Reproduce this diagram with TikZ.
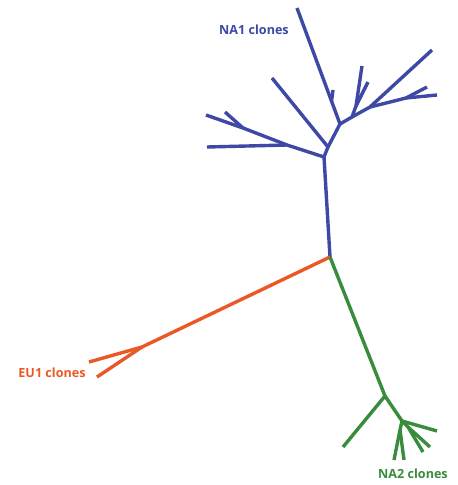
\documentclass[tikz,border=0pt]{standalone}
\usepackage{fontspec}
\setmainfont{Open Sans}
\definecolor{nablue}{RGB}{62,72,165}
\definecolor{euorange}{RGB}{234,88,40}
\definecolor{nagreen}{RGB}{56,140,60}
\begin{document}
\begin{tikzpicture}[x=1pt,y=-1pt,
  br/.style={line width=3.4pt,line join=round},
  lbl/.style={font=\bfseries\fontsize{12.6}{14}\selectfont,inner sep=0pt}]
\useasboundingbox (0,0) rectangle (458,485);
% root and internal nodes
\coordinate (root) at (330,257);
% blue clade
\coordinate (n1) at (324,157);
\coordinate (n2) at (328,147);
\coordinate (n3) at (340,124);
\coordinate (n4) at (352,117);
\coordinate (n5) at (356,106);
\coordinate (n6) at (370,107);
\coordinate (n7) at (406,98);
\coordinate (na) at (287,145);
\coordinate (nb) at (243,128);
\coordinate (s1) at (331.5,101);
\coordinate (s2) at (333,90);
\coordinate (b1) at (297,8);
\coordinate (b2) at (272,78);
\coordinate (b3) at (362,66);
\coordinate (b4) at (368,82);
\coordinate (b5) at (432,50);
\coordinate (b6) at (437,95);
\coordinate (b7) at (427,87);
\coordinate (b8) at (207,147);
\coordinate (b9) at (206,115);
\coordinate (b10) at (225,112);
\begin{scope}[br,draw=nablue]
\draw (root) -- (n1) -- (n2) -- (n3) -- (b1);
\draw (s1) -- (s2);
\draw (n2) -- (b2);
\draw (n3) -- (n4) -- (n5) -- (b3);
\draw (n5) -- (b4);
\draw (n4) -- (n6) -- (b5);
\draw (n6) -- (n7) -- (b6);
\draw (n7) -- (b7);
\draw (n1) -- (na) -- (b8);
\draw (na) -- (nb) -- (b9);
\draw (nb) -- (b10);
\end{scope}
% orange clade
\coordinate (o1) at (142,347);
\coordinate (e1) at (89,362);
\coordinate (e2) at (97,377);
\begin{scope}[br,draw=euorange]
\draw (root) -- (o1) -- (e1);
\draw (o1) -- (e2);
\end{scope}
% green clade
\coordinate (g1) at (385,396);
\coordinate (g2) at (402,421);
\coordinate (g3) at (400,430);
\coordinate (g4) at (408,427);
\coordinate (l1) at (343,447);
\coordinate (l2) at (394,460);
\coordinate (l3) at (404,460);
\coordinate (l4) at (437,431);
\coordinate (l5) at (430,447);
\coordinate (l6) at (423,452);
\begin{scope}[br,draw=nagreen]
\draw (root) -- (g1) -- (l1);
\draw (g1) -- (g2) -- (l4);
\draw (g2) -- (g3) -- (l2);
\draw (g3) -- (l3);
\draw (g2) -- (g4) -- (l5);
\draw (g4) -- (l6);
\end{scope}
% labels
\node[lbl,text=nablue] (na1) at (254,30) {NA1 clones};
\node[lbl,text=euorange] (eu1) at (52,373) {EU1 clones};
\node[lbl,text=nagreen] (na2) at (413,474) {NA2 clones};
\end{tikzpicture}
\end{document}
